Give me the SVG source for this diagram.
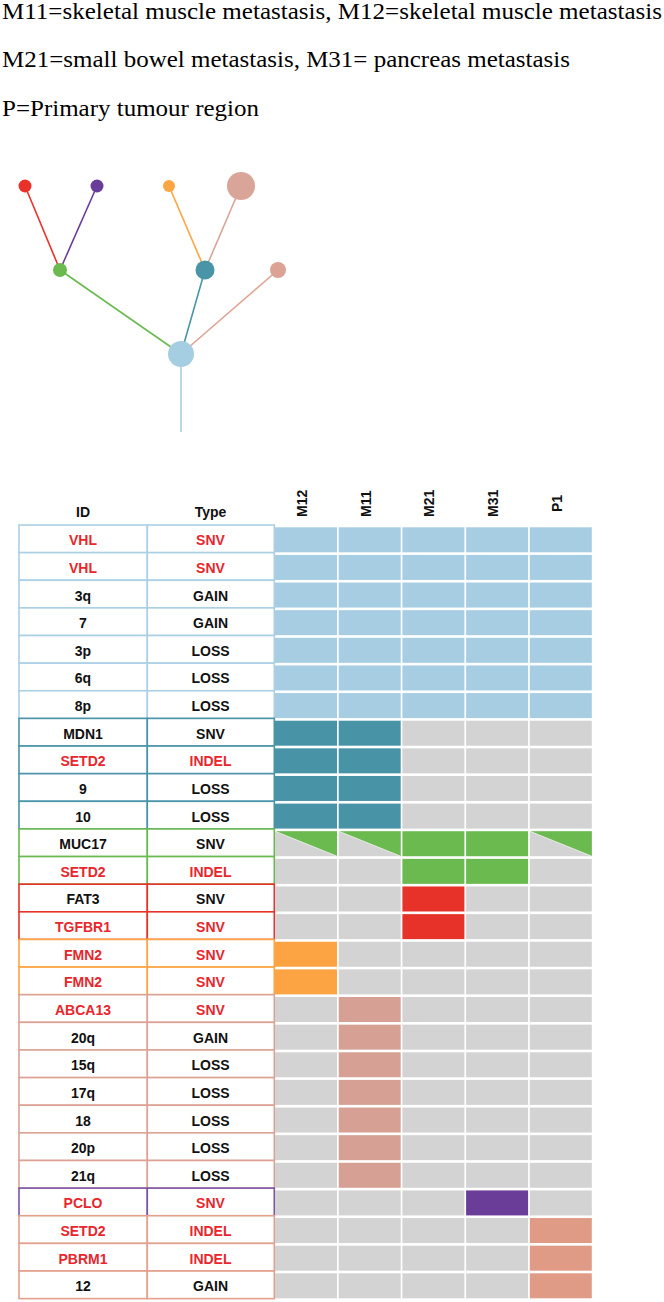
<svg xmlns="http://www.w3.org/2000/svg" width="664" height="1302" viewBox="0 0 664 1302">
<style>
.cap{font-family:"Liberation Serif","Times New Roman",serif;font-size:23px;fill:#000}
.t{font-family:"Liberation Sans",Arial,sans-serif;font-weight:bold;font-size:14px;text-anchor:middle;fill:#111}
.h{font-family:"Liberation Sans",Arial,sans-serif;font-weight:bold;font-size:14px;fill:#111}
.r{fill:#e8262c}
.box{fill:#fff;stroke-width:1.6}
.e{fill:none;stroke-width:1.6}
.c-lb{fill:#a6cde2}.c-te{fill:#4993a7}.c-g{fill:#d3d3d3}.c-gr{fill:#6aba50}.c-re{fill:#e63228}
.c-or{fill:#fca443}.c-pk{fill:#d6a194}.c-pu{fill:#6a3d99}.c-sa{fill:#e09b86}
.s-lb{stroke:#abd0e5}.s-te{stroke:#4a94a8}.s-gr{stroke:#6aba50}.s-re{stroke:#e8322a}
.s-or{stroke:#fca543}.s-pk{stroke:#dca395}.s-pu{stroke:#7b55a3}.s-sa{stroke:#e3a08d}
</style>

<g id="caption">
<text class="cap" x="2" y="18.5" textLength="660" lengthAdjust="spacingAndGlyphs">M11=skeletal muscle metastasis, M12=skeletal muscle metastasis</text>
<text class="cap" x="2" y="67" textLength="568" lengthAdjust="spacingAndGlyphs">M21=small bowel metastasis, M31= pancreas metastasis</text>
<text class="cap" x="2" y="115.5" textLength="257" lengthAdjust="spacingAndGlyphs">P=Primary tumour region</text>
</g>

<g id="connectors">
<line class="e" x1="181" y1="354" x2="181" y2="432" stroke="#a6cee3"/>
<line class="e" x1="181" y1="354" x2="60" y2="270" stroke="#6aba50"/>
<line class="e" x1="181" y1="354" x2="205" y2="270" stroke="#4a94a8"/>
<line class="e" x1="181" y1="354" x2="278" y2="270" stroke="#dfa293"/>
<line class="e" x1="60" y1="270" x2="25" y2="186" stroke="#e8322a"/>
<line class="e" x1="60" y1="270" x2="97" y2="186" stroke="#6a3d9a"/>
<line class="e" x1="205" y1="270" x2="169" y2="186" stroke="#fca543"/>
<line class="e" x1="205" y1="270" x2="241" y2="186" stroke="#d9a598"/>
</g>

<g id="node-root"><circle cx="181" cy="354" r="13" fill="#a6cee3"/></g>
<g id="node-green"><circle cx="60" cy="270" r="7" fill="#6aba50"/></g>
<g id="node-teal"><circle cx="205" cy="270" r="9.5" fill="#4a94a8"/></g>
<g id="node-salmon"><circle cx="278" cy="270" r="8" fill="#dca395"/></g>
<g id="node-red"><circle cx="25" cy="186" r="6.5" fill="#e8322a"/></g>
<g id="node-purple"><circle cx="97" cy="186" r="6.5" fill="#6a3d9a"/></g>
<g id="node-orange"><circle cx="169" cy="186" r="6" fill="#fca543"/></g>
<g id="node-pink"><circle cx="241" cy="186" r="14" fill="#d9a598"/></g>

<g id="header">
<text class="t" x="83" y="517">ID</text>
<text class="t" x="210.5" y="517">Type</text>
<text class="h" transform="translate(306.5,517) rotate(-90)">M12</text>
<text class="h" transform="translate(370.5,517) rotate(-90)">M11</text>
<text class="h" transform="translate(434,517) rotate(-90)">M21</text>
<text class="h" transform="translate(497.5,517) rotate(-90)">M31</text>
<text class="h" transform="translate(562,512) rotate(-90)">P1</text>
</g>

<g id="row0" transform="translate(0,525)"><rect class="box s-lb" x="19" y="0" width="128.3" height="27.63"/><rect class="box s-lb" x="147.3" y="0" width="127" height="27.63"/><text class="t r" x="83" y="20.3">VHL</text><text class="t r" x="210.5" y="20.3">SNV</text><rect class="c-lb" x="275" y="2.3" width="62" height="25"/><rect class="c-lb" x="338.7" y="2.3" width="62" height="25"/><rect class="c-lb" x="402.4" y="2.3" width="62" height="25"/><rect class="c-lb" x="466.1" y="2.3" width="62" height="25"/><rect class="c-lb" x="529.8" y="2.3" width="62" height="25"/></g>
<g id="row1" transform="translate(0,552.63)"><rect class="box s-lb" x="19" y="0" width="128.3" height="27.63"/><rect class="box s-lb" x="147.3" y="0" width="127" height="27.63"/><text class="t r" x="83" y="20.3">VHL</text><text class="t r" x="210.5" y="20.3">SNV</text><rect class="c-lb" x="275" y="2.3" width="62" height="25"/><rect class="c-lb" x="338.7" y="2.3" width="62" height="25"/><rect class="c-lb" x="402.4" y="2.3" width="62" height="25"/><rect class="c-lb" x="466.1" y="2.3" width="62" height="25"/><rect class="c-lb" x="529.8" y="2.3" width="62" height="25"/></g>
<g id="row2" transform="translate(0,580.26)"><rect class="box s-lb" x="19" y="0" width="128.3" height="27.63"/><rect class="box s-lb" x="147.3" y="0" width="127" height="27.63"/><text class="t" x="83" y="20.3">3q</text><text class="t" x="210.5" y="20.3">GAIN</text><rect class="c-lb" x="275" y="2.3" width="62" height="25"/><rect class="c-lb" x="338.7" y="2.3" width="62" height="25"/><rect class="c-lb" x="402.4" y="2.3" width="62" height="25"/><rect class="c-lb" x="466.1" y="2.3" width="62" height="25"/><rect class="c-lb" x="529.8" y="2.3" width="62" height="25"/></g>
<g id="row3" transform="translate(0,607.89)"><rect class="box s-lb" x="19" y="0" width="128.3" height="27.63"/><rect class="box s-lb" x="147.3" y="0" width="127" height="27.63"/><text class="t" x="83" y="20.3">7</text><text class="t" x="210.5" y="20.3">GAIN</text><rect class="c-lb" x="275" y="2.3" width="62" height="25"/><rect class="c-lb" x="338.7" y="2.3" width="62" height="25"/><rect class="c-lb" x="402.4" y="2.3" width="62" height="25"/><rect class="c-lb" x="466.1" y="2.3" width="62" height="25"/><rect class="c-lb" x="529.8" y="2.3" width="62" height="25"/></g>
<g id="row4" transform="translate(0,635.52)"><rect class="box s-lb" x="19" y="0" width="128.3" height="27.63"/><rect class="box s-lb" x="147.3" y="0" width="127" height="27.63"/><text class="t" x="83" y="20.3">3p</text><text class="t" x="210.5" y="20.3">LOSS</text><rect class="c-lb" x="275" y="2.3" width="62" height="25"/><rect class="c-lb" x="338.7" y="2.3" width="62" height="25"/><rect class="c-lb" x="402.4" y="2.3" width="62" height="25"/><rect class="c-lb" x="466.1" y="2.3" width="62" height="25"/><rect class="c-lb" x="529.8" y="2.3" width="62" height="25"/></g>
<g id="row5" transform="translate(0,663.15)"><rect class="box s-lb" x="19" y="0" width="128.3" height="27.63"/><rect class="box s-lb" x="147.3" y="0" width="127" height="27.63"/><text class="t" x="83" y="20.3">6q</text><text class="t" x="210.5" y="20.3">LOSS</text><rect class="c-lb" x="275" y="2.3" width="62" height="25"/><rect class="c-lb" x="338.7" y="2.3" width="62" height="25"/><rect class="c-lb" x="402.4" y="2.3" width="62" height="25"/><rect class="c-lb" x="466.1" y="2.3" width="62" height="25"/><rect class="c-lb" x="529.8" y="2.3" width="62" height="25"/></g>
<g id="row6" transform="translate(0,690.78)"><rect class="box s-lb" x="19" y="0" width="128.3" height="27.63"/><rect class="box s-lb" x="147.3" y="0" width="127" height="27.63"/><text class="t" x="83" y="20.3">8p</text><text class="t" x="210.5" y="20.3">LOSS</text><rect class="c-lb" x="275" y="2.3" width="62" height="25"/><rect class="c-lb" x="338.7" y="2.3" width="62" height="25"/><rect class="c-lb" x="402.4" y="2.3" width="62" height="25"/><rect class="c-lb" x="466.1" y="2.3" width="62" height="25"/><rect class="c-lb" x="529.8" y="2.3" width="62" height="25"/></g>

<g id="row7" transform="translate(0,718.41)"><rect class="box s-te" x="19" y="0" width="128.3" height="27.63"/><rect class="box s-te" x="147.3" y="0" width="127" height="27.63"/><text class="t" x="83" y="20.3">MDN1</text><text class="t" x="210.5" y="20.3">SNV</text><rect class="c-te" x="275" y="2.3" width="62" height="25"/><rect class="c-te" x="338.7" y="2.3" width="62" height="25"/><rect class="c-g" x="402.4" y="2.3" width="62" height="25"/><rect class="c-g" x="466.1" y="2.3" width="62" height="25"/><rect class="c-g" x="529.8" y="2.3" width="62" height="25"/></g>
<g id="row8" transform="translate(0,746.04)"><rect class="box s-te" x="19" y="0" width="128.3" height="27.63"/><rect class="box s-te" x="147.3" y="0" width="127" height="27.63"/><text class="t r" x="83" y="20.3">SETD2</text><text class="t r" x="210.5" y="20.3">INDEL</text><rect class="c-te" x="275" y="2.3" width="62" height="25"/><rect class="c-te" x="338.7" y="2.3" width="62" height="25"/><rect class="c-g" x="402.4" y="2.3" width="62" height="25"/><rect class="c-g" x="466.1" y="2.3" width="62" height="25"/><rect class="c-g" x="529.8" y="2.3" width="62" height="25"/></g>
<g id="row9" transform="translate(0,773.67)"><rect class="box s-te" x="19" y="0" width="128.3" height="27.63"/><rect class="box s-te" x="147.3" y="0" width="127" height="27.63"/><text class="t" x="83" y="20.3">9</text><text class="t" x="210.5" y="20.3">LOSS</text><rect class="c-te" x="275" y="2.3" width="62" height="25"/><rect class="c-te" x="338.7" y="2.3" width="62" height="25"/><rect class="c-g" x="402.4" y="2.3" width="62" height="25"/><rect class="c-g" x="466.1" y="2.3" width="62" height="25"/><rect class="c-g" x="529.8" y="2.3" width="62" height="25"/></g>
<g id="row10" transform="translate(0,801.30)"><rect class="box s-te" x="19" y="0" width="128.3" height="27.63"/><rect class="box s-te" x="147.3" y="0" width="127" height="27.63"/><text class="t" x="83" y="20.3">10</text><text class="t" x="210.5" y="20.3">LOSS</text><rect class="c-te" x="275" y="2.3" width="62" height="25"/><rect class="c-te" x="338.7" y="2.3" width="62" height="25"/><rect class="c-g" x="402.4" y="2.3" width="62" height="25"/><rect class="c-g" x="466.1" y="2.3" width="62" height="25"/><rect class="c-g" x="529.8" y="2.3" width="62" height="25"/></g>

<g id="row11" transform="translate(0,828.93)"><rect class="box s-gr" x="19" y="0" width="128.3" height="27.63"/><rect class="box s-gr" x="147.3" y="0" width="127" height="27.63"/><text class="t" x="83" y="20.3">MUC17</text><text class="t" x="210.5" y="20.3">SNV</text>
<rect class="c-g" x="275" y="2.3" width="62" height="25"/><polygon class="c-gr" points="275,2.3 337,2.3 337,27.3"/>
<rect class="c-g" x="338.7" y="2.3" width="62" height="25"/><polygon class="c-gr" points="338.7,2.3 400.7,2.3 400.7,27.3"/>
<rect class="c-gr" x="402.4" y="2.3" width="62" height="25"/><rect class="c-gr" x="466.1" y="2.3" width="62" height="25"/>
<rect class="c-g" x="529.8" y="2.3" width="62" height="25"/><polygon class="c-gr" points="529.8,2.3 591.8,2.3 591.8,27.3"/>
<g stroke="#f4f4f4" stroke-width="0.8"><line x1="275" y1="2.3" x2="337" y2="27.3"/><line x1="338.7" y1="2.3" x2="400.7" y2="27.3"/><line x1="529.8" y1="2.3" x2="591.8" y2="27.3"/></g></g>
<g id="row12" transform="translate(0,856.56)"><rect class="box s-gr" x="19" y="0" width="128.3" height="27.63"/><rect class="box s-gr" x="147.3" y="0" width="127" height="27.63"/><text class="t r" x="83" y="20.3">SETD2</text><text class="t r" x="210.5" y="20.3">INDEL</text><rect class="c-g" x="275" y="2.3" width="62" height="25"/><rect class="c-g" x="338.7" y="2.3" width="62" height="25"/><rect class="c-gr" x="402.4" y="2.3" width="62" height="25"/><rect class="c-gr" x="466.1" y="2.3" width="62" height="25"/><rect class="c-g" x="529.8" y="2.3" width="62" height="25"/></g>

<g id="row13" transform="translate(0,884.19)"><rect class="box s-re" x="19" y="0" width="128.3" height="27.63"/><rect class="box s-re" x="147.3" y="0" width="127" height="27.63"/><text class="t" x="83" y="20.3">FAT3</text><text class="t" x="210.5" y="20.3">SNV</text><rect class="c-g" x="275" y="2.3" width="62" height="25"/><rect class="c-g" x="338.7" y="2.3" width="62" height="25"/><rect class="c-re" x="402.4" y="2.3" width="62" height="25"/><rect class="c-g" x="466.1" y="2.3" width="62" height="25"/><rect class="c-g" x="529.8" y="2.3" width="62" height="25"/></g>
<g id="row14" transform="translate(0,911.82)"><rect class="box s-re" x="19" y="0" width="128.3" height="27.63"/><rect class="box s-re" x="147.3" y="0" width="127" height="27.63"/><text class="t r" x="83" y="20.3">TGFBR1</text><text class="t r" x="210.5" y="20.3">SNV</text><rect class="c-g" x="275" y="2.3" width="62" height="25"/><rect class="c-g" x="338.7" y="2.3" width="62" height="25"/><rect class="c-re" x="402.4" y="2.3" width="62" height="25"/><rect class="c-g" x="466.1" y="2.3" width="62" height="25"/><rect class="c-g" x="529.8" y="2.3" width="62" height="25"/></g>

<g id="row15" transform="translate(0,939.45)"><rect class="box s-or" x="19" y="0" width="128.3" height="27.63"/><rect class="box s-or" x="147.3" y="0" width="127" height="27.63"/><text class="t r" x="83" y="20.3">FMN2</text><text class="t r" x="210.5" y="20.3">SNV</text><rect class="c-or" x="275" y="2.3" width="62" height="25"/><rect class="c-g" x="338.7" y="2.3" width="62" height="25"/><rect class="c-g" x="402.4" y="2.3" width="62" height="25"/><rect class="c-g" x="466.1" y="2.3" width="62" height="25"/><rect class="c-g" x="529.8" y="2.3" width="62" height="25"/></g>
<g id="row16" transform="translate(0,967.08)"><rect class="box s-or" x="19" y="0" width="128.3" height="27.63"/><rect class="box s-or" x="147.3" y="0" width="127" height="27.63"/><text class="t r" x="83" y="20.3">FMN2</text><text class="t r" x="210.5" y="20.3">SNV</text><rect class="c-or" x="275" y="2.3" width="62" height="25"/><rect class="c-g" x="338.7" y="2.3" width="62" height="25"/><rect class="c-g" x="402.4" y="2.3" width="62" height="25"/><rect class="c-g" x="466.1" y="2.3" width="62" height="25"/><rect class="c-g" x="529.8" y="2.3" width="62" height="25"/></g>

<g id="row17" transform="translate(0,994.71)"><rect class="box s-pk" x="19" y="0" width="128.3" height="27.63"/><rect class="box s-pk" x="147.3" y="0" width="127" height="27.63"/><text class="t r" x="83" y="20.3">ABCA13</text><text class="t r" x="210.5" y="20.3">SNV</text><rect class="c-g" x="275" y="2.3" width="62" height="25"/><rect class="c-pk" x="338.7" y="2.3" width="62" height="25"/><rect class="c-g" x="402.4" y="2.3" width="62" height="25"/><rect class="c-g" x="466.1" y="2.3" width="62" height="25"/><rect class="c-g" x="529.8" y="2.3" width="62" height="25"/></g>
<g id="row18" transform="translate(0,1022.34)"><rect class="box s-pk" x="19" y="0" width="128.3" height="27.63"/><rect class="box s-pk" x="147.3" y="0" width="127" height="27.63"/><text class="t" x="83" y="20.3">20q</text><text class="t" x="210.5" y="20.3">GAIN</text><rect class="c-g" x="275" y="2.3" width="62" height="25"/><rect class="c-pk" x="338.7" y="2.3" width="62" height="25"/><rect class="c-g" x="402.4" y="2.3" width="62" height="25"/><rect class="c-g" x="466.1" y="2.3" width="62" height="25"/><rect class="c-g" x="529.8" y="2.3" width="62" height="25"/></g>
<g id="row19" transform="translate(0,1049.97)"><rect class="box s-pk" x="19" y="0" width="128.3" height="27.63"/><rect class="box s-pk" x="147.3" y="0" width="127" height="27.63"/><text class="t" x="83" y="20.3">15q</text><text class="t" x="210.5" y="20.3">LOSS</text><rect class="c-g" x="275" y="2.3" width="62" height="25"/><rect class="c-pk" x="338.7" y="2.3" width="62" height="25"/><rect class="c-g" x="402.4" y="2.3" width="62" height="25"/><rect class="c-g" x="466.1" y="2.3" width="62" height="25"/><rect class="c-g" x="529.8" y="2.3" width="62" height="25"/></g>
<g id="row20" transform="translate(0,1077.60)"><rect class="box s-pk" x="19" y="0" width="128.3" height="27.63"/><rect class="box s-pk" x="147.3" y="0" width="127" height="27.63"/><text class="t" x="83" y="20.3">17q</text><text class="t" x="210.5" y="20.3">LOSS</text><rect class="c-g" x="275" y="2.3" width="62" height="25"/><rect class="c-pk" x="338.7" y="2.3" width="62" height="25"/><rect class="c-g" x="402.4" y="2.3" width="62" height="25"/><rect class="c-g" x="466.1" y="2.3" width="62" height="25"/><rect class="c-g" x="529.8" y="2.3" width="62" height="25"/></g>
<g id="row21" transform="translate(0,1105.23)"><rect class="box s-pk" x="19" y="0" width="128.3" height="27.63"/><rect class="box s-pk" x="147.3" y="0" width="127" height="27.63"/><text class="t" x="83" y="20.3">18</text><text class="t" x="210.5" y="20.3">LOSS</text><rect class="c-g" x="275" y="2.3" width="62" height="25"/><rect class="c-pk" x="338.7" y="2.3" width="62" height="25"/><rect class="c-g" x="402.4" y="2.3" width="62" height="25"/><rect class="c-g" x="466.1" y="2.3" width="62" height="25"/><rect class="c-g" x="529.8" y="2.3" width="62" height="25"/></g>
<g id="row22" transform="translate(0,1132.86)"><rect class="box s-pk" x="19" y="0" width="128.3" height="27.63"/><rect class="box s-pk" x="147.3" y="0" width="127" height="27.63"/><text class="t" x="83" y="20.3">20p</text><text class="t" x="210.5" y="20.3">LOSS</text><rect class="c-g" x="275" y="2.3" width="62" height="25"/><rect class="c-pk" x="338.7" y="2.3" width="62" height="25"/><rect class="c-g" x="402.4" y="2.3" width="62" height="25"/><rect class="c-g" x="466.1" y="2.3" width="62" height="25"/><rect class="c-g" x="529.8" y="2.3" width="62" height="25"/></g>
<g id="row23" transform="translate(0,1160.49)"><rect class="box s-pk" x="19" y="0" width="128.3" height="27.63"/><rect class="box s-pk" x="147.3" y="0" width="127" height="27.63"/><text class="t" x="83" y="20.3">21q</text><text class="t" x="210.5" y="20.3">LOSS</text><rect class="c-g" x="275" y="2.3" width="62" height="25"/><rect class="c-pk" x="338.7" y="2.3" width="62" height="25"/><rect class="c-g" x="402.4" y="2.3" width="62" height="25"/><rect class="c-g" x="466.1" y="2.3" width="62" height="25"/><rect class="c-g" x="529.8" y="2.3" width="62" height="25"/></g>

<g id="row24" transform="translate(0,1188.12)"><rect class="box s-pu" x="19" y="0" width="128.3" height="27.63"/><rect class="box s-pu" x="147.3" y="0" width="127" height="27.63"/><text class="t r" x="83" y="20.3">PCLO</text><text class="t r" x="210.5" y="20.3">SNV</text><rect class="c-g" x="275" y="2.3" width="62" height="25"/><rect class="c-g" x="338.7" y="2.3" width="62" height="25"/><rect class="c-g" x="402.4" y="2.3" width="62" height="25"/><rect class="c-pu" x="466.1" y="2.3" width="62" height="25"/><rect class="c-g" x="529.8" y="2.3" width="62" height="25"/></g>

<g id="row25" transform="translate(0,1215.75)"><rect class="box s-sa" x="19" y="0" width="128.3" height="27.63"/><rect class="box s-sa" x="147.3" y="0" width="127" height="27.63"/><text class="t r" x="83" y="20.3">SETD2</text><text class="t r" x="210.5" y="20.3">INDEL</text><rect class="c-g" x="275" y="2.3" width="62" height="25"/><rect class="c-g" x="338.7" y="2.3" width="62" height="25"/><rect class="c-g" x="402.4" y="2.3" width="62" height="25"/><rect class="c-g" x="466.1" y="2.3" width="62" height="25"/><rect class="c-sa" x="529.8" y="2.3" width="62" height="25"/></g>
<g id="row26" transform="translate(0,1243.38)"><rect class="box s-sa" x="19" y="0" width="128.3" height="27.63"/><rect class="box s-sa" x="147.3" y="0" width="127" height="27.63"/><text class="t r" x="83" y="20.3">PBRM1</text><text class="t r" x="210.5" y="20.3">INDEL</text><rect class="c-g" x="275" y="2.3" width="62" height="25"/><rect class="c-g" x="338.7" y="2.3" width="62" height="25"/><rect class="c-g" x="402.4" y="2.3" width="62" height="25"/><rect class="c-g" x="466.1" y="2.3" width="62" height="25"/><rect class="c-sa" x="529.8" y="2.3" width="62" height="25"/></g>
<g id="row27" transform="translate(0,1271.01)"><rect class="box s-sa" x="19" y="0" width="128.3" height="27.63"/><rect class="box s-sa" x="147.3" y="0" width="127" height="27.63"/><text class="t" x="83" y="20.3">12</text><text class="t" x="210.5" y="20.3">GAIN</text><rect class="c-g" x="275" y="2.3" width="62" height="25"/><rect class="c-g" x="338.7" y="2.3" width="62" height="25"/><rect class="c-g" x="402.4" y="2.3" width="62" height="25"/><rect class="c-g" x="466.1" y="2.3" width="62" height="25"/><rect class="c-sa" x="529.8" y="2.3" width="62" height="25"/></g>
</svg>
